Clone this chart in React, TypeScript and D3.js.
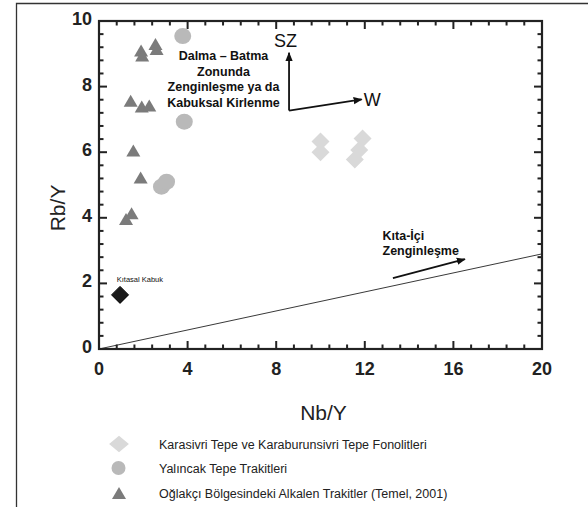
import * as d3 from "d3";

// Karasivri Tepe ve Karaburunsivri Tepe Fonolitleri
const fonolitNbY = [10.0, 10.0, 11.9, 11.75, 11.55];
const fonolitRbY = [6.33, 6.0, 6.42, 6.07, 5.78];
// Yalıncak Tepe Trakitleri
const trakitNbY = [3.78, 3.85, 2.82, 3.05];
const trakitRbY = [9.54, 6.93, 4.95, 5.1];
// Oğlakçı Bölgesindeki Alkalen Trakitler
const alkalenNbY = [1.9, 1.95, 2.55, 2.6, 1.43, 1.93, 2.27, 1.55, 1.88, 1.22, 1.47];
const alkalenRbY = [9.1, 8.95, 9.3, 9.15, 7.57, 7.39, 7.42, 6.05, 5.23, 3.96, 4.14];
// Kıtasal Kabuk
const kabukNbY = [0.95];
const kabukRbY = [1.65];
// reference line
const refLineX = [0, 20];
const refLineY = [0, 2.9];

const xTickLabels = [0, 4, 8, 12, 16, 20];
const yTickLabels = [0, 2, 4, 6, 8, 10];
const xMinorTicks = [0.8, 1.6, 2.4, 3.2, 4.8, 5.6, 6.4, 7.2, 8.8, 9.6, 10.4, 11.2, 12.8, 13.6, 14.4, 15.2, 16.8, 17.6, 18.4, 19.2];
const yMinorTicks = [0.4, 0.8, 1.2, 1.6, 2.4, 2.8, 3.2, 3.6, 4.4, 4.8, 5.2, 5.6, 6.4, 6.8, 7.2, 7.6, 8.4, 8.8, 9.2, 9.6];

const legendLabels = [
    "Karasivri Tepe ve Karaburunsivri Tepe Fonolitleri",
    "Yalıncak Tepe Trakitleri",
    "Oğlakçı Bölgesindeki Alkalen Trakitler (Temel, 2001)"
];
const zoneLines = ["Dalma – Batma", "Zonunda", "Zenginleşme ya da", "Kabuksal Kirlenme"];
const kitaLines = ["Kıta-İçi", "Zenginleşme"];

const W = 588, H = 507;
const margin = {top: 21, right: 46, bottom: 158, left: 99};
const font = "Liberation Sans, Arial, sans-serif";

function diamondPath(h: number) {
    return `M0,${-h}L${h},0L0,${h}L${-h},0Z`;
}

function trianglePath(w: number, h: number) {
    return `M0,${-h / 2}L${w / 2},${h / 2}L${-w / 2},${h / 2}Z`;
}

export default function App() {
    const x = d3.scaleLinear().domain([0, 20]).range([margin.left, W - margin.right]);
    const y = d3.scaleLinear().domain([0, 10]).range([H - margin.bottom, margin.top]);

    // ticks on all four sides, pointing inward
    const xTickLines = (vals: number[], len: number) => vals.flatMap(v => [
        {x1: x(v), x2: x(v), y1: y(0), y2: y(0) - len},
        {x1: x(v), x2: x(v), y1: y(10), y2: y(10) + len}
    ]);
    const yTickLines = (vals: number[], len: number) => vals.flatMap(v => [
        {x1: x(0), x2: x(0) + len, y1: y(v), y2: y(v)},
        {x1: x(20), x2: x(20) - len, y1: y(v), y2: y(v)}
    ]);
    const tickLines = [
        ...xTickLines(xTickLabels, 8), ...xTickLines(xMinorTicks, 4.5),
        ...yTickLines(yTickLabels, 8), ...yTickLines(yMinorTicks, 4.5)
    ];

    const arrows = [
        [8.58, 7.27, 8.58, 9.03],
        [8.58, 7.27, 11.86, 7.61],
        [13.27, 2.16, 16.52, 2.74]
    ];
    const legendY = [444, 468, 493];

    return (
        <svg width={W} height={H} style={{position: "absolute", left: 0, top: 0}}>
            <defs>
                <marker id="ah" viewBox="0 0 10 10" refX={9} refY={5} markerWidth={5} markerHeight={5}
                        orient="auto" markerUnits="strokeWidth">
                    <path d="M0,1L10,5L0,9Z" fill="#111"/>
                </marker>
            </defs>

            {/* outer frame */}
            <path d={`M16.5,${H}V3.5H${W}`} fill="none" stroke="#333" strokeWidth={1.3}/>

            {/* reference line */}
            <line x1={x(refLineX[0])} y1={y(refLineY[0])} x2={x(refLineX[1])} y2={y(refLineY[1])}
                  stroke="#222" strokeWidth={0.9}/>

            {/* plot frame + ticks */}
            <rect x={x(0)} y={y(10)} width={x(20) - x(0)} height={y(0) - y(10)}
                  fill="none" stroke="#222" strokeWidth={2.2}/>
            {tickLines.map((t, i) => (
                <line key={"tk" + i} x1={t.x1} y1={t.y1} x2={t.x2} y2={t.y2}
                      stroke="#222" strokeWidth={2}/>
            ))}

            {/* tick labels */}
            <g fontFamily={font} fontWeight="bold" fontSize={18} fill="#222">
                {xTickLabels.map(d => (
                    <text key={"x" + d} x={x(d)} y={y(0) + 26} textAnchor="middle">{d}</text>
                ))}
                {yTickLabels.map(d => (
                    <text key={"y" + d} x={x(0) - 7} y={y(d) + 4} textAnchor="end">{d}</text>
                ))}
            </g>

            {/* axis titles */}
            <text x={(x(0) + x(20)) / 2 + 3} y={420} textAnchor="middle"
                  fontFamily={font} fontSize={21} fill="#222">Nb/Y</text>
            <text transform={`translate(65,${y(4.3)}) rotate(-90)`} textAnchor="middle"
                  fontFamily={font} fontSize={21} fill="#222">Rb/Y</text>

            {/* points */}
            {alkalenNbY.map((d, i) => (
                <path key={"a" + i} d={trianglePath(14, 12)}
                      transform={`translate(${x(d)},${y(alkalenRbY[i])})`} fill="#7b7b7b"/>
            ))}
            {trakitNbY.map((d, i) => (
                <ellipse key={"t" + i} cx={x(d)} cy={y(trakitRbY[i])} rx={8.5} ry={8} fill="#b9b9b9"/>
            ))}
            {fonolitNbY.map((d, i) => (
                <path key={"f" + i} d={diamondPath(9)}
                      transform={`translate(${x(d)},${y(fonolitRbY[i])})`} fill="#d9d9d9"/>
            ))}
            {kabukNbY.map((d, i) => (
                <path key={"k" + i} d={diamondPath(8.5)}
                      transform={`translate(${x(d)},${y(kabukRbY[i])})`}
                      fill="#1a1a1a" stroke="#000" strokeWidth={1}/>
            ))}
            <text x={x(0.8)} y={y(2.05)} fontFamily={font} fontSize={7.5} fill="#111">Kıtasal Kabuk</text>

            {/* arrows */}
            {arrows.map((a, i) => (
                <line key={"ar" + i} x1={x(a[0])} y1={y(a[1])} x2={x(a[2])} y2={y(a[3])}
                      stroke="#111" strokeWidth={1.8} markerEnd="url(#ah)"/>
            ))}
            <text x={x(7.9)} y={y(9.22)} fontFamily={font} fontSize={18} fill="#111">SZ</text>
            <text x={x(11.95)} y={y(7.42)} fontFamily={font} fontSize={18} fill="#111">W</text>

            <g fontFamily={font} fontWeight="bold" fontSize={12.5} fill="#111">
                {zoneLines.map((d, i) => (
                    <text key={"z" + i} x={x(5.62)} y={60 + i * 15.6} textAnchor="middle">{d}</text>
                ))}
                {kitaLines.map((d, i) => (
                    <text key={"ki" + i} x={x(12.8)} y={240 + i * 15}>{d}</text>
                ))}
            </g>

            {/* legend */}
            <path d={diamondPath(9)} transform={`translate(119,${legendY[0]}) scale(1.1,0.92)`} fill="#d9d9d9"/>
            <circle cx={118.5} cy={legendY[1]} r={7} fill="#b9b9b9"/>
            <path d={trianglePath(14, 12)} transform={`translate(119,${legendY[2]})`} fill="#7b7b7b"/>
            <g fontFamily={font} fontSize={12.5} fill="#222">
                {legendLabels.map((d, i) => (
                    <text key={"l" + i} x={159} y={legendY[i] + 4.5}>{d}</text>
                ))}
            </g>
        </svg>
    );
}
